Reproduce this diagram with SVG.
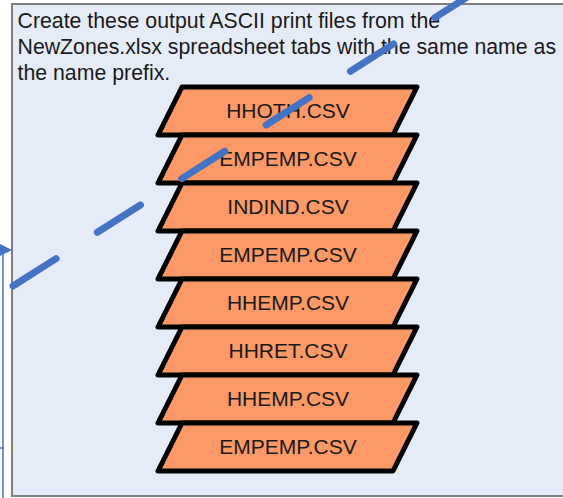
<svg xmlns="http://www.w3.org/2000/svg" width="563" height="498" viewBox="0 0 563 498">
  <defs>
    <style>
      .panel { fill: #E6ECF7; stroke: #7F7F7F; stroke-width: 2; }
      .note { font-family: "Liberation Sans", Arial, sans-serif; font-size: 21.3px; fill: #1A1A1A; }
      .file { fill: #FD9966; stroke: #000000; stroke-width: 5; stroke-linejoin: round; }
      .label { font-family: "Liberation Sans", Arial, sans-serif; font-size: 21px; fill: #1A1A1A; text-anchor: middle; }
      .link { fill: none; stroke: #4472C4; stroke-width: 1.5; }
      .dash { fill: none; stroke: #4472C4; stroke-width: 7; stroke-linecap: round; stroke-dasharray: 51 49; }
    </style>
    <polygon id="file-shape" class="file" points="182,0 417,0 393,48 158,48"/>
  </defs>

  <!-- note panel with description -->
  <g id="panel">
    <rect class="panel" x="12" y="4" width="600" height="492"/>
    <text class="note" x="17.5" y="28">Create these output ASCII print files from the</text>
    <text class="note" x="17.5" y="53.8">NewZones.xlsx spreadsheet tabs with the same name as</text>
    <text class="note" x="17.5" y="79.5">the name prefix.</text>
  </g>

  <!-- stack of output files -->
  <g id="file-hhoth" transform="translate(0,87)">
    <use href="#file-shape"/>
    <text class="label" x="288" y="31">HHOTH.CSV</text>
  </g>
  <g id="file-empemp-1" transform="translate(0,135)">
    <use href="#file-shape"/>
    <text class="label" x="288" y="31">EMPEMP.CSV</text>
  </g>
  <g id="file-indind" transform="translate(0,183)">
    <use href="#file-shape"/>
    <text class="label" x="288" y="31">INDIND.CSV</text>
  </g>
  <g id="file-empemp-2" transform="translate(0,231)">
    <use href="#file-shape"/>
    <text class="label" x="288" y="31">EMPEMP.CSV</text>
  </g>
  <g id="file-hhemp-1" transform="translate(0,279)">
    <use href="#file-shape"/>
    <text class="label" x="288" y="31">HHEMP.CSV</text>
  </g>
  <g id="file-hhret" transform="translate(0,327)">
    <use href="#file-shape"/>
    <text class="label" x="288" y="31">HHRET.CSV</text>
  </g>
  <g id="file-hhemp-2" transform="translate(0,375)">
    <use href="#file-shape"/>
    <text class="label" x="288" y="31">HHEMP.CSV</text>
  </g>
  <g id="file-empemp-3" transform="translate(0,423)">
    <use href="#file-shape"/>
    <text class="label" x="288" y="31">EMPEMP.CSV</text>
  </g>

  <!-- connectors -->
  <g id="connectors">
    <path class="link" d="M3,498 V250 H4"/>
    <polygon points="0,244 12,250 0,256" fill="#4472C4"/>
    <path class="link" d="M0,448 H3"/>
    <path class="dash" d="M13,286 L483,-13"/>
  </g>
</svg>
